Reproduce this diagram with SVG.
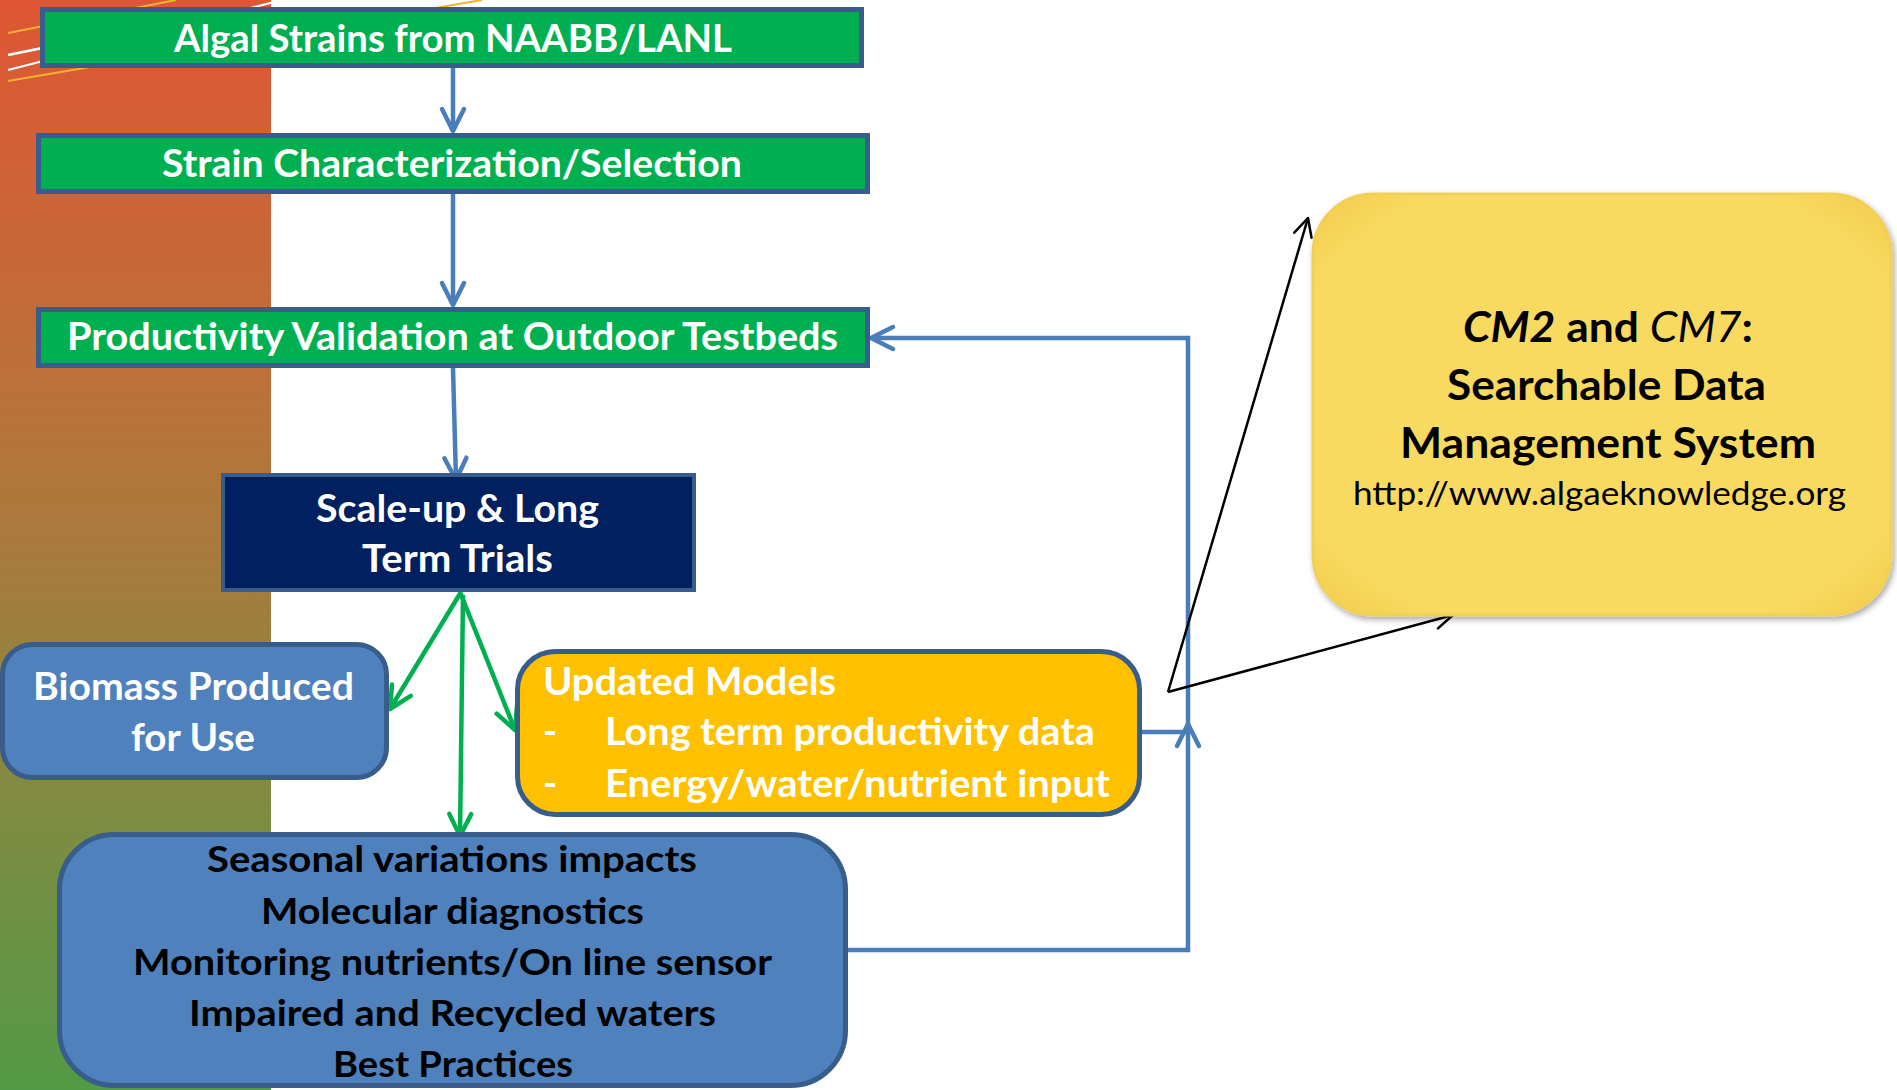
<svg xmlns="http://www.w3.org/2000/svg" width="1897" height="1090" viewBox="0 0 1897 1090">
<defs>
<linearGradient id="strip" x1="0" y1="0" x2="0" y2="1">
<stop offset="0" stop-color="#DF5634"/>
<stop offset="0.35" stop-color="#BC7138"/>
<stop offset="0.55" stop-color="#A27D3D"/>
<stop offset="0.75" stop-color="#7E8C42"/>
<stop offset="1" stop-color="#529A45"/>
</linearGradient>
<radialGradient id="gold" cx="0.5" cy="0.5" r="0.75">
<stop offset="0.75" stop-color="#F9DA60"/>
<stop offset="1" stop-color="#EFC744"/>
</radialGradient>
<filter id="sh" x="-5%" y="-5%" width="112%" height="112%">
<feGaussianBlur in="SourceAlpha" stdDeviation="3"/>
<feOffset dx="2" dy="3"/>
<feComponentTransfer><feFuncA type="linear" slope="0.35"/></feComponentTransfer>
<feMerge><feMergeNode/><feMergeNode in="SourceGraphic"/></feMerge>
</filter>
<marker id="ab" markerUnits="userSpaceOnUse" markerWidth="30" markerHeight="30" viewBox="-26 -14 30 28" refX="0" refY="0" orient="auto">
<path d="M-22,-11 L0,0 L-22,11" fill="none" stroke="#4A7EBB" stroke-width="4.5" stroke-linecap="round" stroke-linejoin="round"/>
</marker>
<marker id="ag" markerUnits="userSpaceOnUse" markerWidth="30" markerHeight="30" viewBox="-26 -14 30 28" refX="0" refY="0" orient="auto">
<path d="M-22,-11 L0,0 L-22,11" fill="none" stroke="#00B050" stroke-width="4.5" stroke-linecap="round" stroke-linejoin="round"/>
</marker>
<marker id="ak" markerUnits="userSpaceOnUse" markerWidth="26" markerHeight="26" viewBox="-22 -12 26 24" refX="0" refY="0" orient="auto">
<path d="M-18,-9 L0,0 L-18,9" fill="none" stroke="#000" stroke-width="2.5" stroke-linecap="round" stroke-linejoin="round"/>
</marker>
</defs>
<style>
.t{font-family:Lato,"Open Sans","Liberation Sans",sans-serif;font-weight:bold;text-anchor:middle;}
.s{text-anchor:start;}
.w{fill:#FFFFFF;}
.k{fill:#000000;}
.box{stroke:#385D8A;stroke-width:5;}
.cb{fill:none;stroke:#4A7EBB;stroke-width:4.5;}
.cg{fill:none;stroke:#00B050;stroke-width:4.5;}
.ck{fill:none;stroke:#000;stroke-width:2.5;}
</style>
<rect x="0" y="0" width="271" height="1090" fill="url(#strip)"/>
<g stroke-width="2" fill="none">
<line x1="8" y1="33" x2="176" y2="0" stroke="#F2B22E"/>
<line x1="8" y1="55" x2="200" y2="16" stroke="#FFFFFF" stroke-width="2.5"/>
<line x1="8" y1="70" x2="282" y2="0" stroke="#FFFFFF"/>
<line x1="8" y1="81" x2="482" y2="0" stroke="#F2B22E"/>
</g>
<g id="connectors">
<line class="cb" x1="453" y1="68" x2="453" y2="131" marker-end="url(#ab)"/>
<line class="cb" x1="453" y1="194" x2="453" y2="305" marker-end="url(#ab)"/>
<line class="cb" x1="453" y1="368" x2="456" y2="480" marker-end="url(#ab)"/>
<polyline class="cb" points="1142,732 1188,732 1188,338 871,338" marker-end="url(#ab)"/>
<polyline class="cb" points="848,950 1188,950 1188,724" marker-end="url(#ab)"/>
<line class="cg" x1="461" y1="592" x2="390" y2="709" marker-end="url(#ag)"/>
<line class="cg" x1="463" y1="595" x2="460" y2="836" marker-end="url(#ag)"/>
<line class="cg" x1="460" y1="592" x2="515" y2="730" marker-end="url(#ag)"/>
<line class="ck" x1="1168" y1="692" x2="1308" y2="218" marker-end="url(#ak)"/>
<line class="ck" x1="1168" y1="692" x2="1453" y2="615" marker-end="url(#ak)"/>
</g>
<g id="n1">
<rect class="box" x="42.5" y="9.5" width="819" height="56" fill="#00B050"/>
<text class="t w" x="453" y="52" font-size="38" textLength="558" lengthAdjust="spacingAndGlyphs">Algal Strains from NAABB/LANL</text>
</g>
<g id="n2">
<rect class="box" x="38.5" y="135.5" width="829" height="56" fill="#00B050"/>
<text class="t w" x="452" y="177" font-size="38" textLength="580" lengthAdjust="spacingAndGlyphs">Strain Characterization/Selection</text>
</g>
<g id="n3">
<rect class="box" x="38.5" y="309.5" width="829" height="56" fill="#00B050"/>
<text class="t w" x="452.5" y="350" font-size="38" textLength="771" lengthAdjust="spacingAndGlyphs">Productivity Validation at Outdoor Testbeds</text>
</g>
<g id="n4">
<rect x="223" y="475" width="471" height="115" fill="#002060" stroke="#385D8A" stroke-width="4"/>
<text class="t w" x="457.5" y="522" font-size="38" textLength="283" lengthAdjust="spacingAndGlyphs">Scale-up &amp; Long</text>
<text class="t w" x="457.5" y="572" font-size="38" textLength="191" lengthAdjust="spacingAndGlyphs">Term Trials</text>
</g>
<g id="n5">
<rect class="box" x="2.5" y="644.5" width="384" height="133" rx="30" fill="#4F81BD"/>
<text class="t w" x="193.5" y="700" font-size="38" textLength="321" lengthAdjust="spacingAndGlyphs">Biomass Produced</text>
<text class="t w" x="193" y="751" font-size="38" textLength="124" lengthAdjust="spacingAndGlyphs">for Use</text>
</g>
<g id="n6">
<rect class="box" x="517.5" y="651.5" width="622" height="163" rx="38" fill="#FFC000"/>
<text class="t s w" x="543" y="695" font-size="38" textLength="293" lengthAdjust="spacingAndGlyphs">Updated Models</text>
<text class="t s w" x="543" y="745" font-size="38">-</text>
<text class="t s w" x="605" y="745" font-size="38" textLength="490" lengthAdjust="spacingAndGlyphs">Long term productivity data</text>
<text class="t s w" x="543" y="797" font-size="38">-</text>
<text class="t s w" x="605" y="797" font-size="38" textLength="505" lengthAdjust="spacingAndGlyphs">Energy/water/nutrient input</text>
</g>
<g id="n7">
<rect class="box" x="59.5" y="834.5" width="786" height="251" rx="55" fill="#4F81BD"/>
<text class="t k" x="452" y="872" font-size="37" textLength="490" lengthAdjust="spacingAndGlyphs">Seasonal variations impacts</text>
<text class="t k" x="452.5" y="924" font-size="37" textLength="383" lengthAdjust="spacingAndGlyphs">Molecular diagnostics</text>
<text class="t k" x="452.5" y="975" font-size="37" textLength="639" lengthAdjust="spacingAndGlyphs">Monitoring nutrients/On line sensor</text>
<text class="t k" x="452.5" y="1026" font-size="37" textLength="527" lengthAdjust="spacingAndGlyphs">Impaired and Recycled waters</text>
<text class="t k" x="453" y="1077" font-size="37" textLength="240" lengthAdjust="spacingAndGlyphs">Best Practices</text>
</g>
<g id="n8">
<rect x="1313" y="194" width="578" height="421" rx="60" fill="url(#gold)" stroke="#F2CF58" stroke-width="3" filter="url(#sh)"/>
<text class="t k" x="1608" y="342" font-size="42" textLength="290" lengthAdjust="spacingAndGlyphs"><tspan font-style="italic">CM2</tspan> and <tspan font-style="italic" font-weight="normal">CM7</tspan>:</text>
<text class="t k" x="1606.5" y="400" font-size="42" textLength="319" lengthAdjust="spacingAndGlyphs">Searchable Data</text>
<text class="t k" x="1608" y="458" font-size="42" textLength="416" lengthAdjust="spacingAndGlyphs">Management System</text>
<text class="t k" x="1599.5" y="505" font-size="32" style="font-weight:normal" textLength="493" lengthAdjust="spacingAndGlyphs">http://www.algaeknowledge.org</text>
</g>
</svg>
